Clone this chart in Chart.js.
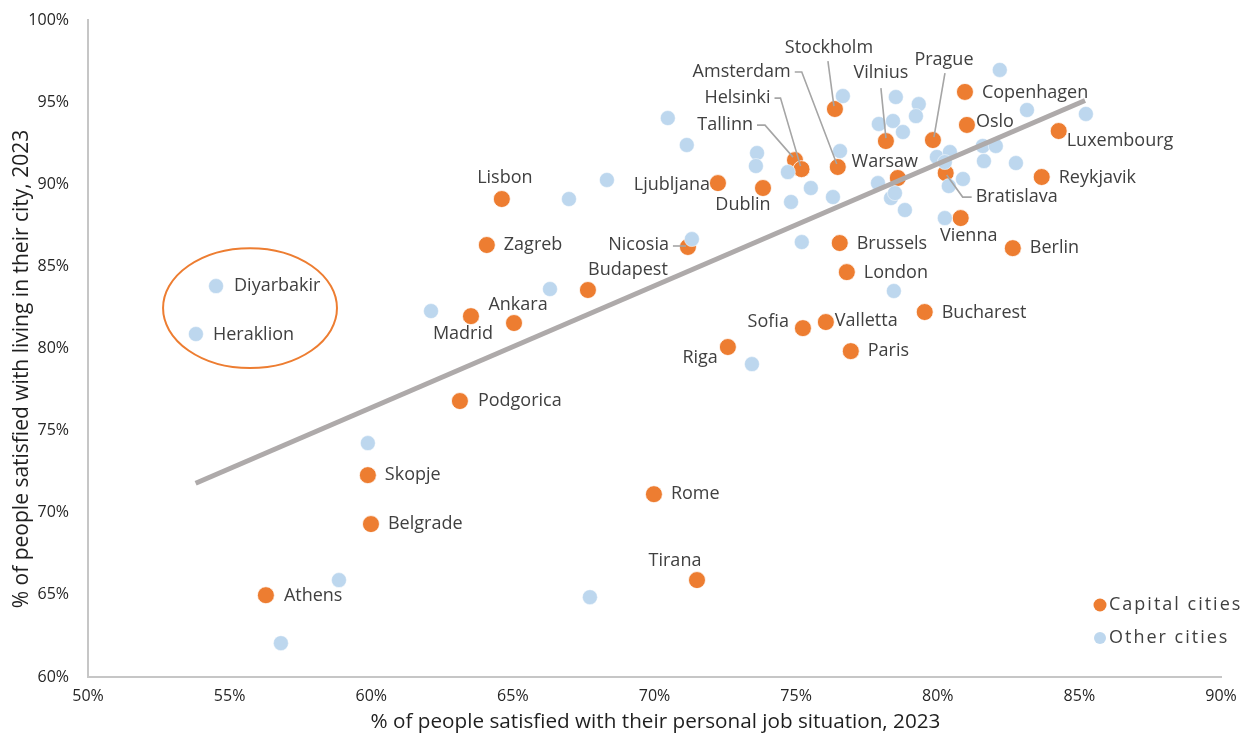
<!DOCTYPE html>
<html>
<head>
<meta charset="utf-8">
<title>City vs job satisfaction, 2023</title>
<script src="https://cdn.jsdelivr.net/npm/chart.js@4.4.1/dist/chart.umd.min.js"></script>
<style>
  html, body { margin: 0; padding: 0; background: #fff; }
  #wrap { width: 1243px; height: 737px; }
</style>
</head>
<body>
<div id="wrap"><canvas id="chart" width="1243" height="737"></canvas></div>
<script>
(function () {
  'use strict';

  // ── data (x = % satisfied with job situation, y = % satisfied living in city)
  const capitalNames = ['Lisbon', 'Zagreb', 'Madrid', 'Ankara', 'Budapest', 'Nicosia', 'Ljubljana', 'Dublin',
    'Tallinn', 'Helsinki', 'Amsterdam', 'Stockholm', 'Vilnius', 'Warsaw', 'Prague', 'Bratislava',
    'Copenhagen', 'Oslo', 'Luxembourg', 'Reykjavik', 'Vienna', 'Berlin', 'Brussels', 'London',
    'Bucharest', 'Valletta', 'Sofia', 'Paris', 'Riga', 'Podgorica', 'Skopje', 'Belgrade', 'Rome',
    'Tirana', 'Athens'];
  const capitalJob = [64.61, 64.08, 63.52, 65.04, 67.65, 71.18, 72.24, 73.83,
    74.96, 75.19, 76.47, 76.37, 78.17, 78.59, 79.83, 80.28,
    80.96, 81.03, 84.27, 83.67, 80.81, 82.65, 76.54, 76.79,
    79.54, 76.05, 75.24, 76.93, 72.59, 63.13, 59.88, 59.99, 69.98,
    71.50, 56.28];
  const capitalCity = [89.10, 86.30, 81.97, 81.55, 83.56, 86.18, 90.07, 89.77,
    91.47, 90.92, 91.05, 94.58, 92.63, 90.38, 92.69, 90.68,
    95.62, 93.61, 93.24, 90.44, 87.94, 86.11, 86.42, 84.65,
    82.22, 81.61, 81.24, 79.84, 80.09, 76.80, 72.29, 69.31, 71.13,
    65.90, 64.98];

  const otherNames = ['Diyarbakir', 'Heraklion'];
  const otherJob = [54.52, 53.81, 59.88, 58.86, 56.81, 67.72, 62.11, 66.31, 66.98, 68.32,
    70.47, 71.14, 71.32, 73.62, 73.58, 74.71, 75.52, 74.82, 76.30, 76.55,
    76.65, 75.20, 73.44, 78.45, 78.52, 77.92, 78.42, 78.77, 79.33, 79.23,
    77.89, 78.35, 78.49, 78.84, 82.19, 83.15, 85.23, 79.97, 80.43, 80.25,
    81.59, 82.05, 81.63, 82.76, 80.89, 80.39, 80.25];
  const otherCity = [83.80, 80.88, 74.24, 65.90, 62.06, 64.86, 82.28, 83.62, 89.10, 90.26,
    94.03, 92.39, 86.66, 91.90, 91.11, 90.74, 89.77, 88.92, 89.22, 92.02,
    95.37, 86.48, 79.05, 83.50, 95.31, 93.67, 93.85, 93.18, 94.88, 94.15,
    90.07, 89.16, 89.46, 88.43, 96.96, 94.52, 94.28, 91.66, 91.96, 91.35,
    92.33, 92.33, 91.41, 91.29, 90.32, 89.89, 87.94];

  const trendJob = [53.8, 85.2];
  const trendCity = [71.8, 95.1];

  // highlighted group (Diyarbakir / Heraklion), in axis units
  const ringCentre = [55.72, 82.46];
  const ringRadius = [3.07, 3.65];

  const xLabel = '% of people satisfied with their personal job situation, 2023';
  const yLabel = '% of people satisfied with living in their city, 2023';
  const legendLabels = ['Capital cities', 'Other cities'];

  // ── styling
  const ORANGE = '#ED7D31';
  const BLUE = '#BDD7EE';
  const TEXT = '#404040';
  const LEADER = '#A5A5A5';
  const FONT = '"Open Sans", "Noto Sans", sans-serif';

  // label offsets from the point, in pixels
  const LABEL_POS = {
    Lisbon: [3, -21, 'center'], Zagreb: [17, 0, 'left'], Madrid: [-8, 18, 'center'],
    Ankara: [4, -18, 'center'], Budapest: [40, -20, 'center'], Nicosia: [-19, -2, 'right'],
    Ljubljana: [-8, 2, 'right'], Dublin: [-20, 17, 'center'], Tallinn: [-42, -35, 'right'],
    Helsinki: [-31, -71, 'right'], Amsterdam: [-47, -95, 'right'], Stockholm: [-6, -61, 'center'],
    Vilnius: [-5, -68, 'center'], Warsaw: [-13, -16, 'center'], Prague: [11, -80, 'center'],
    Bratislava: [30, 24, 'left'], Copenhagen: [17, 1, 'left'], Oslo: [9, -3, 'left'],
    Luxembourg: [8, 10, 'left'], Reykjavik: [17, 1, 'left'], Vienna: [8, 18, 'center'],
    Berlin: [17, 0, 'left'], Brussels: [17, 1, 'left'], London: [17, 1, 'left'],
    Bucharest: [17, 1, 'left'], Valletta: [9, -1, 'left'], Sofia: [-14, -6, 'right'],
    Paris: [17, 0, 'left'], Riga: [-10, 11, 'right'], Podgorica: [18, 0, 'left'],
    Skopje: [17, 0, 'left'], Belgrade: [17, 0, 'left'], Rome: [17, 0, 'left'],
    Tirana: [-22, -19, 'center'], Athens: [18, 1, 'left'],
    Diyarbakir: [18, 0, 'left'], Heraklion: [17, 1, 'left']
  };

  // leader lines, polyline offsets from the point, in pixels
  const LEADERS = {
    Tallinn: [[-38, -35], [-30, -35], [-2, -3]],
    Helsinki: [[-27, -71], [-21, -71], [-1, -3]],
    Amsterdam: [[-43, -95], [-36, -95], [-1, -3]],
    Stockholm: [[-7, -48], [-1, -3]],
    Vilnius: [[-5, -53], [0, -3]],
    Prague: [[12, -67], [1, -3]],
    Bratislava: [[1, 2], [17, 24], [26, 24]],
    Nicosia: [[-15, -1], [-2, -1]]
  };

  const pts = (xs, ys) => xs.map((x, i) => ({ x: x, y: ys[i] }));

  const annotations = {
    id: 'annotations',
    afterDatasetsDraw(chart) {
      const { ctx, chartArea, scales: { x, y } } = chart;
      ctx.save();

      // ring around the outliers
      const cx = x.getPixelForValue(ringCentre[0]);
      const cy = y.getPixelForValue(ringCentre[1]);
      const rx = x.getPixelForValue(ringCentre[0] + ringRadius[0]) - cx;
      const ry = cy - y.getPixelForValue(ringCentre[1] + ringRadius[1]);
      ctx.beginPath();
      ctx.ellipse(cx, cy, rx, ry, 0, 0, Math.PI * 2);
      ctx.strokeStyle = ORANGE;
      ctx.lineWidth = 2;
      ctx.stroke();

      const labelled = capitalNames.map((n, i) => [n, capitalJob[i], capitalCity[i]])
        .concat(otherNames.map((n, i) => [n, otherJob[i], otherCity[i]]));

      // leaders
      ctx.strokeStyle = LEADER;
      ctx.lineWidth = 1.6;
      labelled.forEach(([name, vx, vy]) => {
        const path = LEADERS[name];
        if (!path) return;
        const px = x.getPixelForValue(vx);
        const py = y.getPixelForValue(vy);
        ctx.beginPath();
        path.forEach(([dx, dy], k) => {
          if (k === 0) ctx.moveTo(px + dx, py + dy);
          else ctx.lineTo(px + dx, py + dy);
        });
        ctx.stroke();
      });

      // city names
      ctx.font = '18px ' + FONT;
      ctx.fillStyle = TEXT;
      ctx.textBaseline = 'middle';
      labelled.forEach(([name, vx, vy]) => {
        const pos = LABEL_POS[name];
        if (!pos) return;
        ctx.textAlign = pos[2];
        ctx.fillText(name, x.getPixelForValue(vx) + pos[0], y.getPixelForValue(vy) + pos[1]);
      });

      // legend
      const lx = chartArea.right - 121;
      const ly = [chartArea.bottom - 72, chartArea.bottom - 39];
      [ORANGE, BLUE].forEach((c, i) => {
        ctx.beginPath();
        ctx.arc(lx, ly[i], i === 0 ? 6.5 : 6, 0, Math.PI * 2);
        ctx.fillStyle = c;
        ctx.fill();
      });
      ctx.fillStyle = TEXT;
      ctx.textAlign = 'left';
      ctx.font = '18px ' + FONT;
      ctx.letterSpacing = '2px';
      legendLabels.forEach((t, i) => ctx.fillText(t, lx + 9, ly[i]));
      ctx.letterSpacing = '0px';

      // axis titles
      ctx.fillStyle = '#1f1f1f';
      ctx.textAlign = 'center';
      ctx.font = '20.7px ' + FONT;
      ctx.fillText(xLabel, (chartArea.left + chartArea.right) / 2 + 1, 722);
      ctx.font = '21px ' + FONT;
      ctx.translate(22, 369);
      ctx.rotate(-Math.PI / 2);
      ctx.fillText(yLabel, 0, 0);

      ctx.restore();
    }
  };

  const axisBase = {
    type: 'linear',
    grid: { display: false, drawTicks: false },
    border: { display: true, color: '#C6C6C6', width: 2 },
    ticks: {
      stepSize: 5,
      color: '#262626',
      font: { family: FONT, size: 16 },
      callback: v => v + '%'
    }
  };

  // fixed axis sizes; label overhang handled by layout padding
  function fitX(s) {
    s.height = 60;
    s.paddingLeft = 0;
    s.paddingRight = 0;
  }
  function fitY(s) {
    s.width = 88;
    s.paddingTop = 0;
    s.paddingBottom = 0;
  }

  new Chart(document.getElementById('chart'), {
    type: 'scatter',
    plugins: [annotations],
    data: {
      datasets: [
        {
          type: 'line',
          label: 'Trend',
          data: pts(trendJob, trendCity),
          borderColor: '#AEAAAA',
          borderWidth: 5,
          pointRadius: 0,
          fill: false,
          order: 0
        },
        {
          label: legendLabels[1],
          data: pts(otherJob, otherCity),
          backgroundColor: BLUE,
          borderColor: '#ffffff',
          borderWidth: 0.5,
          pointRadius: 7.5,
          order: 1
        },
        {
          label: legendLabels[0],
          data: pts(capitalJob, capitalCity),
          backgroundColor: ORANGE,
          borderColor: '#ffffff',
          borderWidth: 0.8,
          pointRadius: 8.5,
          order: 2
        }
      ]
    },
    options: {
      responsive: false,
      animation: false,
      layout: { padding: { top: 20, right: 22, left: 0, bottom: 0 } },
      plugins: { legend: { display: false }, tooltip: { enabled: false } },
      scales: {
        x: Object.assign({}, axisBase, {
          min: 50, max: 90,
          ticks: Object.assign({}, axisBase.ticks, { padding: 10, maxRotation: 0 }),
          afterFit: fitX
        }),
        y: Object.assign({}, axisBase, {
          min: 60, max: 100,
          ticks: Object.assign({}, axisBase.ticks, { padding: 19 }),
          afterFit: fitY
        })
      }
    }
  });
})();
</script>
</body>
</html>
